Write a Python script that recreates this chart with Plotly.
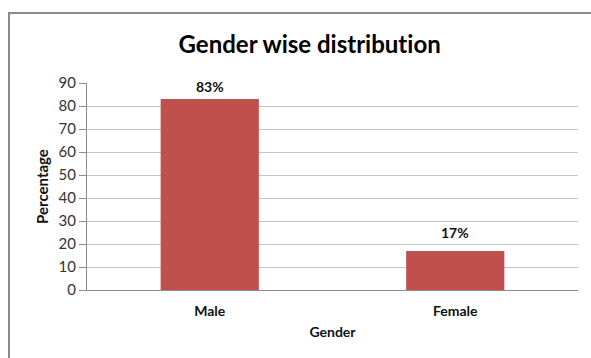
import plotly.graph_objects as go

categories = ["Male", "Female"]
values = [83, 17]
labels = ["83%", "17%"]
y_ticks = [0, 10, 20, 30, 40, 50, 60, 70, 80, 90]

BAR = "#C0504D"
FONT = "Lato"

fig = go.Figure()
fig.add_trace(go.Bar(x=categories, y=values, marker=dict(color=BAR, line=dict(width=0)),
                     width=0.4, hoverinfo="skip"))

ann = []
for c, v, t in zip(categories, values, labels):
    ann.append(dict(x=c, y=v, text="<b>%s</b>" % t, showarrow=False, xref="x", yref="y",
                    yanchor="bottom", yshift=2 if v > 80 else 8,
                    font=dict(family=FONT, size=14, color="#111")))

fig.update_layout(
    width=591, height=358,
    margin=dict(l=87, r=13, t=83, b=68),
    paper_bgcolor="white", plot_bgcolor="white",
    showlegend=False,
    title=dict(text="<b>Gender wise distribut\u200cion</b>", x=268/591, xanchor="center",
               y=1 - 45/358, yanchor="middle", xref="paper", yref="container",
               font=dict(family=FONT, size=24, color="#000")),
    annotations=ann,
    xaxis=dict(title=dict(text="<b>Gender</b>", font=dict(family=FONT, size=14, color="#111"), standoff=9),
               tickfont=dict(family=FONT, size=14, color="#111"),
               tickprefix="<b>", ticksuffix="</b>",
               showline=True, linecolor="#8c8c8c", linewidth=1, showgrid=False,
               ticks="", ticklabelstandoff=8),
    yaxis=dict(range=[0, 90], tickvals=y_ticks, showgrid=True, gridcolor="#c4c4c4", gridwidth=1,
               showline=True, linecolor="#8c8c8c", linewidth=1, ticks="outside", ticklen=7,
               tickcolor="#8c8c8c", zeroline=False,
               tickfont=dict(family=FONT, size=15, color="#333"),
               title=dict(text="<b>Percentage</b>", font=dict(family=FONT, size=15, color="#111"), standoff=6)),
    shapes=[dict(type="rect", xref="paper", yref="paper",
                 x0=(9 - 87) / 491, x1=1.1, y0=-0.45, y1=(290 - 13) / 207,
                 line=dict(color="#8a8a8a", width=2), fillcolor="rgba(0,0,0,0)", layer="below")],
)

fig.write_html("out.html")
